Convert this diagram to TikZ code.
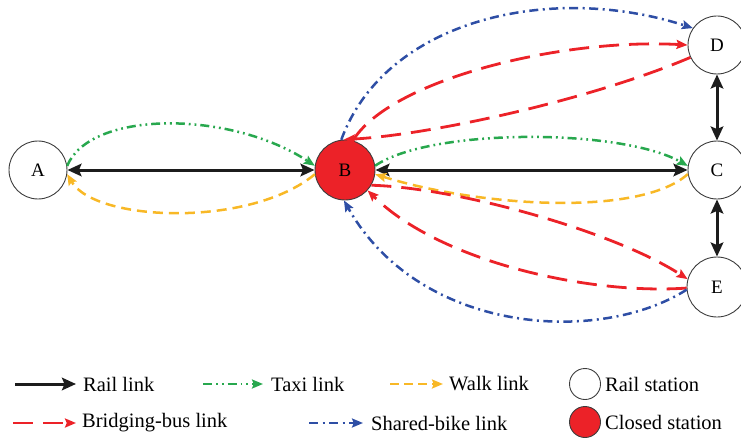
\documentclass[tikz,border=0pt]{standalone}
\usepackage{fontspec}
\setmainfont{Liberation Serif}
\usetikzlibrary{arrows.meta}
\definecolor{rred}{RGB}{236,34,40}
\definecolor{tgreen}{RGB}{40,168,78}
\definecolor{wyellow}{RGB}{248,184,38}
\definecolor{bblue}{RGB}{46,78,165}
\definecolor{railc}{RGB}{28,28,28}
\definecolor{edgec}{RGB}{60,60,60}
\begin{document}
\begin{tikzpicture}[x=1pt,y=-1pt,
  stn/.style={circle,draw=edgec,line width=0.9pt,minimum size=58pt,inner sep=0pt,font=\fontsize{19}{19}\selectfont},
  bigtip/.tip={Stealth[length=14pt,width=12.5pt,inset=2.5pt]},
  smalltip/.tip={Stealth[length=11pt,width=9pt,inset=1.8pt]},
  rail/.style={line width=3pt,draw=railc,bigtip-bigtip},
  raillg/.style={line width=3pt,draw=railc,-bigtip},
  taxi/.style={line width=2.5pt,draw=tgreen,dash pattern=on 9pt off 4pt on 1.8pt off 4pt on 1.8pt off 4pt,-smalltip},
  walk/.style={line width=2.5pt,draw=wyellow,dash pattern=on 10pt off 6pt,-smalltip},
  bus/.style={line width=2.8pt,draw=rred,dash pattern=on 20pt off 10pt,-smalltip},
  bike/.style={line width=2.5pt,draw=bblue,dash pattern=on 9pt off 4.5pt on 2pt off 4.5pt,-smalltip},
  lgtext/.style={anchor=west,inner sep=0pt,font=\fontsize{20.5}{20.5}\selectfont}
]
\useasboundingbox (0,0) rectangle (741,441);

% stations
\node[stn] (A) at (38,170) {A};
\node[stn,fill=rred,minimum size=60pt] (B) at (345,170) {B};
\node[stn] (D) at (717,45) {D};
\node[stn] (C) at (717,170) {C};
\node[stn,minimum size=60pt] (E) at (717,287) {E};

% rail links
\draw[rail] (A.east) -- (B.west);
\draw[rail] (B.east) -- (C.west);
\draw[rail] (C.north) -- (D.south);
\draw[rail] (C.south) -- (E.north);

% taxi links
\draw[taxi] (A.8) .. controls (90,110) and (230,110) .. (B.172);
\draw[taxi] (B.8) .. controls (430,128) and (620,128) .. (C.172);

% walk links
\draw[walk] (B.188) .. controls (250,228) and (95,222) .. (A.352);
\draw[walk] (C.188) .. controls (640,217) and (480,207) .. (B.352);

% bridging-bus links
\draw[bus] (B.75) .. controls (390,80) and (560,38) .. (D.180);
\draw[bus] (D.205) .. controls (590,100) and (430,135) .. (B.92);
\draw[bus] (B.330) .. controls (460,188) and (615,232) .. (E.165);
\draw[bus] (E.182) .. controls (590,295) and (440,262) .. (B.318);

% shared-bike links
\draw[bike] (B.97) .. controls (385,20) and (550,-18) .. (D.145);
\draw[bike] (E.185) .. controls (600,345) and (420,335) .. (B.268);

% legend
\coordinate (l1a) at (15,384); \coordinate (l1b) at (76,384);
\draw[raillg] (l1a) -- (l1b);
\node[lgtext] (t1) at (83,384) {Rail link};
\coordinate (l2a) at (203,384); \coordinate (l2b) at (263,384);
\draw[taxi,line width=2.2pt] (l2a) -- (l2b);
\node[lgtext] (t2) at (271,384) {Taxi link};
\coordinate (l3a) at (390,384); \coordinate (l3b) at (443,384);
\draw[walk,line width=2.2pt,dash pattern=on 9pt off 5pt] (l3a) -- (l3b);
\node[lgtext] (t3) at (449,384) {Walk link};
\node[circle,draw=edgec,line width=0.9pt,minimum size=31pt,inner sep=0pt] (lrs) at (585,384) {};
\node[lgtext] (t4) at (605,384) {Rail station};

\coordinate (l4a) at (13,423); \coordinate (l4b) at (76,423);
\draw[bus,line width=2.5pt] (l4a) -- (l4b);
\node[lgtext] (t5) at (82,423) {Bridging-bus link};
\coordinate (l5a) at (309,423); \coordinate (l5b) at (363,423);
\draw[bike,line width=2.2pt] (l5a) -- (l5b);
\node[lgtext] (t6) at (371,423) {Shared-bike link};
\node[circle,draw=edgec,fill=rred,line width=0.9pt,minimum size=31pt,inner sep=0pt] (lcs) at (585,422) {};
\node[lgtext] (t7) at (605,422) {Closed station};
\end{tikzpicture}
\end{document}
